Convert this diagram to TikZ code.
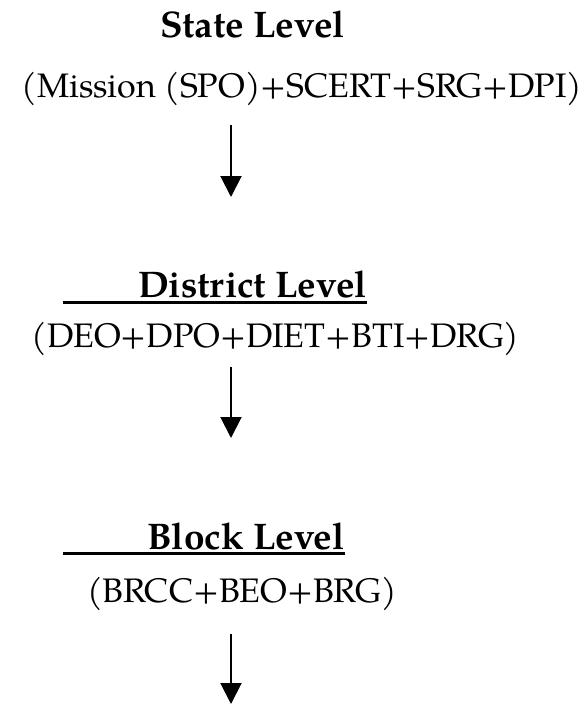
\documentclass[tikz,border=0pt]{standalone}
\usepackage{fontspec}
\setmainfont{TeX Gyre Pagella}
\usetikzlibrary{arrows.meta}
\tikzset{
  lvltitle/.style={font=\fontsize{37}{40}\selectfont\bfseries, inner sep=0pt, anchor=base},
  members/.style={font=\fontsize{34}{40}\selectfont, inner sep=0pt, anchor=base},
  flow/.style={line width=2pt, -{Triangle[width=21pt,length=21pt]}},
  rule/.style={line width=3pt}
}
\begin{document}
\begin{tikzpicture}[x=1pt,y=-1pt]
  \useasboundingbox (0,0) rectangle (587,704);
  % state level
  \node[lvltitle] (state) at (252.5,37) {State Level};
  \node[members] (statem) at (302,97) {(Mission (SPO)+SCERT+SRG+DPI)};
  % district level
  \node[lvltitle] (district) at (252.5,297) {District Level};
  \node[members] (districtm) at (275.5,347) {(DEO+DPO+DIET+BTI+DRG)};
  % block level
  \node[lvltitle] (block) at (246,549) {Block Level};
  \node[members] (blockm) at (242,602) {(BRCC+BEO+BRG)};
  % underlines, running out to the left of the titles
  \coordinate (dul) at (63,302.5);
  \coordinate (bul) at (63,553.5);
  \draw[rule] (dul) -- (dul -| district.east);
  \draw[rule] (bul) -- (bul -| block.east);
  % arrows between the levels
  \coordinate (a1s) at (231,125); \coordinate (a1e) at (231,197);
  \coordinate (a2s) at (231,367); \coordinate (a2e) at (231,438);
  \coordinate (a3s) at (231,634); \coordinate (a3e) at (231,704);
  \draw[flow] (a1s) -- (a1e);
  \draw[flow] (a2s) -- (a2e);
  \draw[flow] (a3s) -- (a3e);
\end{tikzpicture}
\end{document}
